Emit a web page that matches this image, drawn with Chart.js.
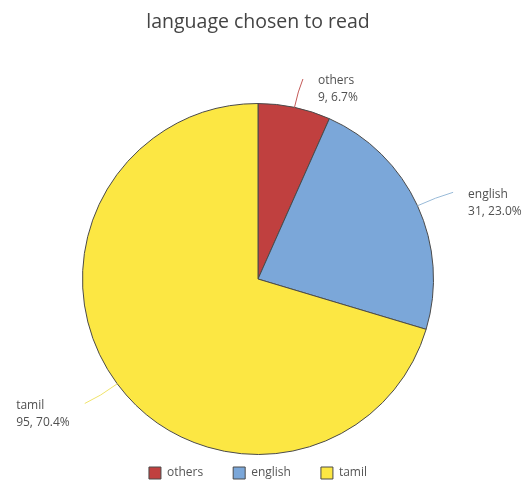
<!DOCTYPE html>
<html>
<head>
<meta charset="utf-8">
<script src="https://cdn.jsdelivr.net/npm/chart.js@4/dist/chart.umd.min.js"></script>
<style>
  html, body { margin: 0; padding: 0; background: #fff; }
  #wrap { width: 523px; height: 484px; }
</style>
</head>
<body>
<div id="wrap"><canvas id="chart-pie" width="523" height="484"></canvas></div>
<script>
// language chosen to read — pie with outside leader labels

const LABELS = ['others', 'english', 'tamil'];
const COUNTS = [9, 31, 95];
const PERCENTS = ['6.7%', '23.0%', '70.4%'];
const COLORS = ['#c0403f', '#7ba7d9', '#fce743'];
const LINE_COLORS = ['#c45a58', '#98bad8', '#f0e36a'];

const FONT = "'Open Sans', 'Noto Sans', sans-serif";
const LEGEND_PAD = 30;
const LEADER_LEN = [31, 37, 38];

// draws leader line + two-line label outside each slice
const outsideLabels = {
  id: 'outsideLabels',
  afterDatasetsDraw(chart) {
    const ctx = chart.ctx;
    const meta = chart.getDatasetMeta(0);
    ctx.save();
    ctx.font = '12px ' + FONT;
    ctx.fillStyle = '#505050';
    ctx.textBaseline = 'middle';
    ctx.textAlign = 'left';
    meta.data.forEach((arc, i) => {
      const { x, y, startAngle, endAngle, outerRadius } = arc.getProps(['x', 'y', 'startAngle', 'endAngle', 'outerRadius']);
      const mid = (startAngle + endAngle) / 2;
      const cos = Math.cos(mid), sin = Math.sin(mid);
      const right = cos >= 0;
      const len = LEADER_LEN[i];
      const x0 = x + cos * outerRadius, y0 = y + sin * outerRadius;
      const xc = x + cos * (outerRadius + len * 0.55), yc = y + sin * (outerRadius + len * 0.55);
      const x1 = x + cos * (outerRadius + len) + (right ? 2 : -2);
      const y1 = y + sin * (outerRadius + len) + (right ? 2 : -3);
      ctx.strokeStyle = LINE_COLORS[i];
      ctx.lineWidth = 1;
      ctx.beginPath();
      ctx.moveTo(x0, y0);
      ctx.quadraticCurveTo(xc, yc, x1, y1);
      ctx.stroke();
      const line1 = LABELS[i];
      const line2 = COUNTS[i] + ', ' + PERCENTS[i];
      const w = Math.max(ctx.measureText(line1).width, ctx.measureText(line2).width);
      const tx = right ? x1 + 15 : x1 - 15 - w;
      ctx.fillText(line1, tx, y1 + 2);
      ctx.fillText(line2, tx, y1 + 19);
    });
    ctx.restore();
  }
};

// keep the legend short so the pie keeps its size, but wide item spacing
const legendTweak = {
  id: 'legendTweak',
  beforeLayout(chart) {
    const lg = chart.legend;
    if (lg && !lg._tweaked) {
      const fit = lg.fit.bind(lg);
      lg.fit = function () { fit(); this.height = 29; };
      lg._tweaked = true;
    }
  },
  afterLayout(chart) {
    const lg = chart.legend;
    lg.top = chart.chartArea.bottom + 12 - LEGEND_PAD;
    lg.bottom = chart.height;
  }
};

new Chart(document.getElementById('chart-pie').getContext('2d'), {
  type: 'pie',
  data: {
    labels: LABELS,
    datasets: [{
      data: COUNTS,
      backgroundColor: COLORS,
      borderColor: '#4a4a4a',
      borderWidth: 1,
    }]
  },
  options: {
    responsive: false,
    animation: false,
    layout: { padding: { top: 0, bottom: 0, left: 0, right: 7 } },
    plugins: {
      title: {
        display: true,
        text: 'language chosen to read',
        color: '#444',
        font: { family: FONT, size: 19.5, weight: 'normal' },
        padding: { top: 11, bottom: 68.6 }
      },
      legend: {
        position: 'bottom',
        labels: {
          color: '#555',
          font: { family: FONT, size: 12 },
          boxWidth: 12,
          boxHeight: 12,
          padding: LEGEND_PAD
        }
      },
      tooltip: { enabled: false }
    }
  },
  plugins: [outsideLabels, legendTweak]
});
</script>
</body>
</html>
